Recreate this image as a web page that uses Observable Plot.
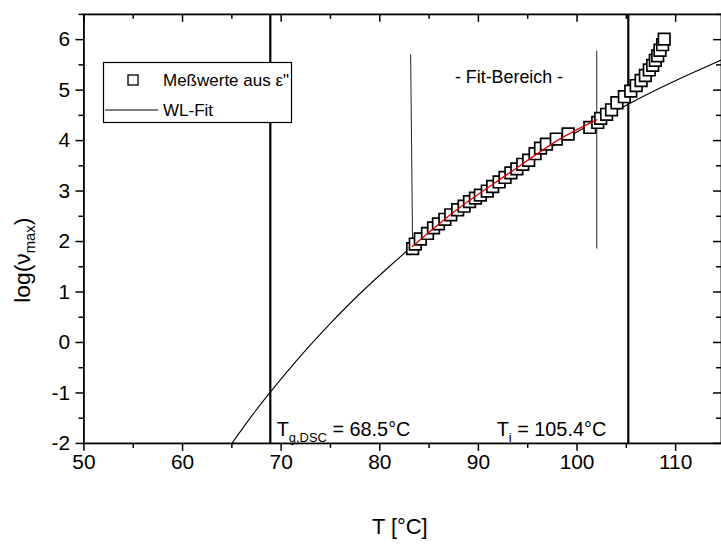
<!DOCTYPE html>
<html><head><meta charset="utf-8">
<script src="https://cdn.jsdelivr.net/npm/d3@7"></script>
<script src="https://cdn.jsdelivr.net/npm/@observablehq/plot@0.6"></script>
<style>
html,body{margin:0;padding:0;background:#fff;overflow:hidden;}
#wrap{position:relative;width:721px;height:544px;overflow:hidden;}
#wrap svg{display:block;}
#legend{position:absolute;left:0;top:0;}
</style></head><body><div id="wrap"></div>
<script>
// Measured points (T in °C, log(nu_max))
const measT = [83.33,83.6,84.11,84.84,85.45,85.95,86.6,87.2,87.9,88.55,89.1,89.7,90.2,90.9,91.45,92.1,92.7,93.3,93.9,94.5,95.1,95.75,96.3,96.9,97.9,99.1,101.3,102.1,102.4,103.0,103.5,104.05,104.8,105.45,106.0,106.5,106.93,107.33,107.67,107.94,108.18,108.41,108.68,108.84];
const measLog = [1.86,1.95,2.05,2.16,2.27,2.35,2.44,2.53,2.63,2.70,2.79,2.86,2.92,3.00,3.09,3.18,3.27,3.36,3.44,3.53,3.61,3.74,3.85,3.93,4.03,4.13,4.26,4.36,4.44,4.52,4.61,4.75,4.87,4.98,5.09,5.19,5.29,5.40,5.49,5.59,5.68,5.79,5.90,6.01];
// WL-Fit curve
const fitT = [65,67,69,72,75,78,81,84,87,90,93,96,99,102,105,108,111,114.65];
const fitLog = [-2.00,-1.46,-0.96,-0.26,0.38,0.97,1.51,2.02,2.48,2.92,3.32,3.70,4.06,4.39,4.70,5.00,5.28,5.60];
// red fit-range line
const redT = [83.3,88,93,98,102.0];
const redLog = [1.90,2.66,3.34,4.00,4.41];
// fit range boundary lines
const rangeX1 = [83.13,102.0], rangeX2 = [83.33,102.0];
const rangeTop = [5.71,5.78], rangeBottom = [1.88,1.86];
// vertical temperature markers (Tg, Ti)
const markerT = [68.9,105.2];
// annotations
const annoT = [69.6,91.9];
const annoLog = [-1.86,-1.86];
const annoMain = ["T","T"], annoSub = ["g,DSC","i"], annoRest = [" = 68.5°C"," = 105.4°C"];
const fitLabel = "- Fit-Bereich -", fitLabelT = 93.1, fitLabelLog = 5.26;
// ticks
const xMajor = [50,60,70,80,90,100,110];
const xMinor = [55,65,75,85,95,105];
const yMajor = [-2,-1,0,1,2,3,4,5,6];
const yMinor = [-1.5,-0.5,0.5,1.5,2.5,3.5,4.5,5.5,6.5];
const xDomain = [50,114.65], yDomain = [-2,6.5];

const meas = measT.map((t,i)=>({t, v: measLog[i]}));
const fit = fitT.map((t,i)=>({t, v: fitLog[i]}));
const red = redT.map((t,i)=>({t, v: redLog[i]}));
const ranges = rangeX1.map((x,i)=>({x1:x, x2:rangeX2[i], y1:rangeTop[i], y2:rangeBottom[i]}));

const W = 726, H = 544, mL = 84, mR = 0, mT = 14, mB = 98;
const innerH = H - mT - mB, innerW = W - mL - mR;
const font = "'Liberation Sans', Arial, sans-serif";
const fmt = d => (d < 0 ? "-" : "") + Math.abs(d);

const plot = Plot.plot({
  width: W, height: H,
  marginLeft: mL, marginRight: mR, marginTop: mT, marginBottom: mB,
  style: {fontFamily: font, background: "white", color: "black", overflow: "visible"},
  x: {domain: xDomain},
  y: {domain: yDomain},
  marks: [
    Plot.axisX(xMajor, {anchor: "bottom", tickSize: 8, tickPadding: 3, fontSize: 21, tickFormat: fmt, label: null, strokeWidth: 1.5}),
    Plot.axisX(xMinor, {anchor: "bottom", tickSize: 5, tickFormat: () => "", label: null, strokeWidth: 1.5}),
    Plot.axisY(yMajor, {anchor: "left", tickSize: 8, tickPadding: 6, fontSize: 21, tickFormat: fmt, label: null, strokeWidth: 1.5}),
    Plot.axisY(yMinor, {anchor: "left", tickSize: 5, tickFormat: () => "", label: null, strokeWidth: 1.5}),
    // inward mirrored ticks on top and right
    Plot.tickX(xMajor, {x: d => d, insetBottom: innerH - 8, strokeWidth: 1.5}),
    Plot.tickX(xMinor, {x: d => d, insetBottom: innerH - 5, strokeWidth: 1.5}),
    Plot.tickY(yMajor, {y: d => d, insetLeft: innerW - 8, strokeWidth: 1.5}),
    Plot.tickY(yMinor, {y: d => d, insetLeft: innerW - 5, strokeWidth: 1.5}),
    Plot.frame({strokeWidth: 1.8}),
    Plot.ruleX(markerT, {x: d => d, strokeWidth: 2.2}),
    Plot.link(ranges, {x1: "x1", x2: "x2", y1: "y1", y2: "y2", stroke: "#222", strokeWidth: 1}),
    Plot.line(fit, {x: "t", y: "v", curve: "natural", stroke: "black", strokeWidth: 1.1, clip: true}),
    Plot.dot(meas, {x: "t", y: "v", symbol: "square", r: 6.6, fill: "white", stroke: "black", strokeWidth: 1.7}),
    Plot.line(red, {x: "t", y: "v", curve: "natural", stroke: "#e00000", strokeWidth: 1.3}),
    Plot.text([fitLabel], {x: fitLabelT, y: fitLabelLog, text: d => d, fontSize: 18, textAnchor: "middle"})
  ]
});

const svg = d3.select(plot);
const sx = plot.scale("x"), sy = plot.scale("y");
// annotations with subscripts
annoT.forEach((t, i) => {
  const tx = svg.append("text").attr("x", sx.apply(t)).attr("y", sy.apply(annoLog[i]))
    .attr("text-anchor", "start")
    .attr("font-size", 20).attr("font-family", font).attr("fill", "black");
  tx.append("tspan").text(annoMain[i]);
  tx.append("tspan").attr("font-size", 13).attr("dy", 6).text(annoSub[i]);
  tx.append("tspan").attr("dy", -6).text(annoRest[i]);
});
// axis titles
const xMid = (sx.range[0] + 721) / 2;
svg.append("text").attr("x", xMid).attr("y", 538).attr("text-anchor", "middle")
  .attr("font-size", 22).attr("font-family", font).text("T [°C]");
const yl = svg.append("text").attr("transform", `translate(30,${262}) rotate(-90)`)
  .attr("text-anchor", "middle").attr("font-size", 23).attr("font-family", font);
yl.append("tspan").text("log(ν");
yl.append("tspan").attr("font-size", 15).attr("dy", 5).text("max");
yl.append("tspan").attr("dy", -5).text(")");

document.getElementById("wrap").appendChild(plot);

// legend box overlay
const lg = d3.select("#wrap").append("svg").attr("id", "legend").attr("width", 721).attr("height", 544)
  .style("pointer-events", "none");
const lgItems = [{label: "Meßwerte aus ε\"", kind: "square"}, {label: "WL-Fit", kind: "line"}];
lg.append("rect").attr("x", 103.5).attr("y", 62.5).attr("width", 188).attr("height", 60)
  .attr("fill", "white").attr("stroke", "black").attr("stroke-width", 1.2);
lgItems.forEach((it, i) => {
  const cy = 80 + i * 30;
  if (it.kind === "square") {
    lg.append("rect").attr("x", 128).attr("y", cy - 5).attr("width", 10).attr("height", 10)
      .attr("fill", "white").attr("stroke", "black").attr("stroke-width", 1.3);
  } else {
    lg.append("line").attr("x1", 105).attr("x2", 158).attr("y1", cy).attr("y2", cy)
      .attr("stroke", "black").attr("stroke-width", 1);
  }
  lg.append("text").attr("x", 163).attr("y", cy + 6).attr("font-size", 17)
    .attr("font-family", font).text(it.label);
});
</script></body></html>
